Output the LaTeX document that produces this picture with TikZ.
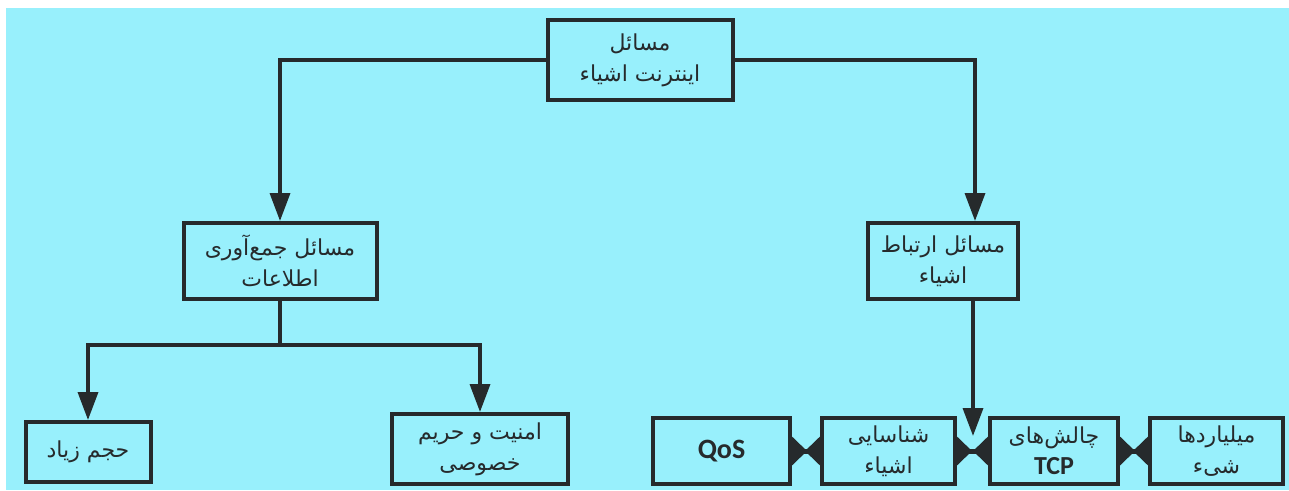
\documentclass[tikz,border=0pt]{standalone}
\usepackage{fontspec}
\setmainfont{DejaVu Sans}
\newfontfamily\fa[Script=Arabic]{DejaVu Sans}
\newfontfamily\lat{Carlito}
\TeXXeTstate=1
\usetikzlibrary{arrows.meta}
\definecolor{bg}{RGB}{152,240,252}
\definecolor{ink}{RGB}{38,42,44}
% one right-to-left line of Persian text
\newcommand\fl[1]{{\fa\beginR #1\endR}}
\begin{document}
\begin{tikzpicture}[x=1pt,y=-1pt,
  box/.style={draw=ink, line width=4pt, align=center, text=ink,
    font=\fontsize{22}{31}\selectfont, inner sep=1pt},
  line/.style={draw=ink, line width=3.5pt},
  conn/.style={line, -{Triangle[length=28pt,width=20pt]}},
  bow/.style={draw=ink, line width=5pt,
    {Triangle[reversed,length=15pt,width=28pt]}-{Triangle[reversed,length=15pt,width=28pt]}},
  latin/.style={font=\lat\bfseries\fontsize{28}{31}\selectfont}]
\useasboundingbox (0,0) rectangle (1289,490);
\fill[white] (0,0) rectangle (1289,490);
\fill[bg] (6,8) rectangle (1289,490);

% top level
\node[box, minimum width=185, minimum height=80] (top) at (640,60)
  {\fl{مسائل}\\\fl{اینترنت اشیاء}};

% second level
\node[box, minimum width=193, minimum height=76] (gather) at (280,261)
  {\fl{مسائل جمع‌آوری}\\\fl{اطلاعات}};
\node[box, minimum width=150, minimum height=76] (comm) at (943,261)
  {\fl{مسائل ارتباط}\\\fl{اشیاء}};

% third level, left branch
\node[box, minimum width=125, minimum height=60] (vol) at (88,452)
  {\fl{حجم زیاد}};
\node[box, minimum width=176, minimum height=70] (sec) at (480,449)
  {\fl{امنیت و حریم}\\\fl{خصوصی}};

% third level, right row
\node[box, minimum width=137, minimum height=66, latin] (qos) at (721.5,451) {QoS};
\node[box, minimum width=133, minimum height=66] (ident) at (888.5,451)
  {\fl{شناسایی}\\\fl{اشیاء}};
\node[box, minimum width=128, minimum height=66] (tcp) at (1054,451)
  {\fl{چالش‌های}\\{\lat\bfseries\fontsize{26}{31}\selectfont TCP}};
\node[box, minimum width=133, minimum height=66] (bil) at (1216.5,451)
  {\fl{میلیاردها}\\\fl{شیء}};

% connectors
\draw[conn] (top.west) -| (gather.north);
\draw[conn] (top.east) -| ([xshift=32pt]comm.north);

\coordinate (split) at (280,345);
\draw[line] (gather.south) -- (split);
\draw[conn] (split) -| (vol.north);
\draw[conn] (split) -| (sec.north);

\coordinate (tcpin) at (973,436);
\draw[conn] ([xshift=30pt]comm.south) -- (tcpin);

\draw[bow] (qos.east) -- (ident.west);
\draw[bow] (ident.east) -- (tcp.west);
\draw[bow] (tcp.east) -- (bil.west);
\end{tikzpicture}
\end{document}
